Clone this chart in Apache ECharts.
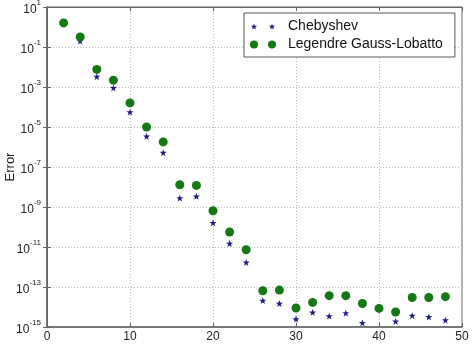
<!DOCTYPE html>
<html><head><meta charset="utf-8">
<script src="https://cdn.jsdelivr.net/npm/echarts@6/dist/echarts.min.js"></script>
<style>html,body{margin:0;padding:0;background:#fff}#c{width:473px;height:344px}</style>
</head><body><div id="c"></div>
<script>
const N = [2,4,6,8,10,12,14,16,18,20,22,24,26,28,30,32,34,36,38,40,42,44,46,48];
const chebyshev = [1.5,0.2,3.3e-3,9e-4,5.6e-5,3.4e-6,5.2e-7,2.8e-9,3.4e-9,1.6e-10,1.5e-11,1.7e-12,2.1e-14,1.5e-14,2.5e-15,5.4e-15,3.5e-15,5e-15,1.6e-15,null,1.9e-15,3.7e-15,3.2e-15,2.2e-15];
const legendreGL = [1.6,0.32,7.6e-3,2.2e-3,1.6e-4,1e-5,1.8e-6,1.3e-8,1.2e-8,6.5e-10,5.6e-11,7.3e-12,6.5e-14,7e-14,8.9e-15,1.7e-14,3.7e-14,3.7e-14,1.5e-14,8.5e-15,5.6e-15,3e-14,3e-14,3.3e-14];
const xTicks = [0,10,20,30,40,50];
const seriesNames = ['Chebyshev','Legendre Gauss-Lobatto'];

const STAR = 'M10 0 L12.35 6.76 L19.51 6.91 L13.80 11.24 L15.88 18.09 L10 14 L4.12 18.09 L6.20 11.24 L0.49 6.91 L7.65 6.76 Z';
const STAR2 = 'path://M-2.1 -3 M76.5 21.1 ' +
  'M10 0 L12.35 6.76 L19.51 6.91 L13.80 11.24 L15.88 18.09 L10 14 L4.12 18.09 L6.20 11.24 L0.49 6.91 L7.65 6.76 Z ' +
  'M64.4 0 L66.75 6.76 L73.91 6.91 L68.2 11.24 L70.28 18.09 L64.4 14 L58.52 18.09 L60.6 11.24 L54.89 6.91 L62.05 6.76 Z';
const CIRC2 = 'path://M0 10 A10 10 0 1 0 20 10 A10 10 0 1 0 0 10 Z M45 10 A10 10 0 1 0 65 10 A10 10 0 1 0 45 10 Z';

const pairs = (ys) => N.map((n,i) => ys[i] == null ? null : [n, ys[i]]).filter(p => p);

const blue = '#1c1c84', green = '#147814';
const font = 'Liberation Sans, Arial, sans-serif';
const chart = echarts.init(document.getElementById('c'), null, {renderer:'canvas'});
chart.setOption({
  animation:false,
  backgroundColor:'#fff',
  grid:{left:47, top:7, right:11, bottom:17, show:true, borderColor:'#666', borderWidth:1, containLabel:false, outerBoundsMode:'none'},
  legend:{
    orient:'vertical', left:244, top:13,
    backgroundColor:'#fff', borderColor:'#555', borderWidth:1,
    padding:[6.5,12,5.5,6], itemGap:4, itemWidth:26, itemHeight:8,
    textStyle:{fontFamily:font, fontSize:14, color:'#111', padding:[0,0,0,7]},
    data:[{name:seriesNames[0], icon:STAR2, itemStyle:{color:blue}},
          {name:seriesNames[1], icon:CIRC2, itemStyle:{color:green}}]
  },
  xAxis:[{
    type:'value', min:xTicks[0], max:xTicks[xTicks.length-1], interval:10,
    axisLine:{lineStyle:{color:'#666', width:1.5}},
    axisTick:{inside:true, length:4, lineStyle:{color:'#666'}},
    axisLabel:{fontFamily:font, fontSize:12, color:'#222', margin:4},
    splitLine:{show:true, lineStyle:{color:'#bbb', type:[1,2], width:1}}
  },{
    type:'value', position:'top', min:0, max:50, interval:10,
    axisLine:{show:true, lineStyle:{color:'#666'}},
    axisTick:{inside:true, length:4, lineStyle:{color:'#666'}},
    axisLabel:{show:false}, splitLine:{show:false}
  }],
  yAxis:[{
    type:'log', logBase:10, min:1e-15, max:10, interval:2,
    name:'Error', nameLocation:'middle', nameGap:30, nameMoveOverlap:false,
    nameTextStyle:{fontFamily:font, fontSize:13, color:'#222'},
    axisLine:{lineStyle:{color:'#666', width:1.5}},
    axisTick:{inside:true, length:4, lineStyle:{color:'#666'}},
    axisLabel:{
      margin:6, color:'#222',
      formatter:(v)=>{ const e = Math.round(Math.log10(v)); return '{b|10}{s|'+e+'}'; },
      rich:{
        b:{fontFamily:font, fontSize:12, color:'#222', verticalAlign:'bottom', padding:[5,0,0,0]},
        s:{fontFamily:font, fontSize:8, color:'#222', verticalAlign:'top'}
      }
    },
    splitLine:{show:true, lineStyle:{color:'#bbb', type:[1,2], width:1}}
  },{
    type:'log', logBase:10, min:1e-15, max:10, interval:2, position:'right',
    axisLine:{show:true, lineStyle:{color:'#666'}},
    axisTick:{inside:true, length:4, lineStyle:{color:'#666'}},
    axisLabel:{show:false}, splitLine:{show:false}
  }],
  series:[
    {name:seriesNames[0], type:'scatter', data:pairs(chebyshev), symbol:'path://'+STAR, symbolSize:7, itemStyle:{color:blue, opacity:1}},
    {name:seriesNames[1], type:'scatter', data:pairs(legendreGL), symbol:'circle', symbolSize:9, itemStyle:{color:green, opacity:1}}
  ]
});
</script></body></html>
